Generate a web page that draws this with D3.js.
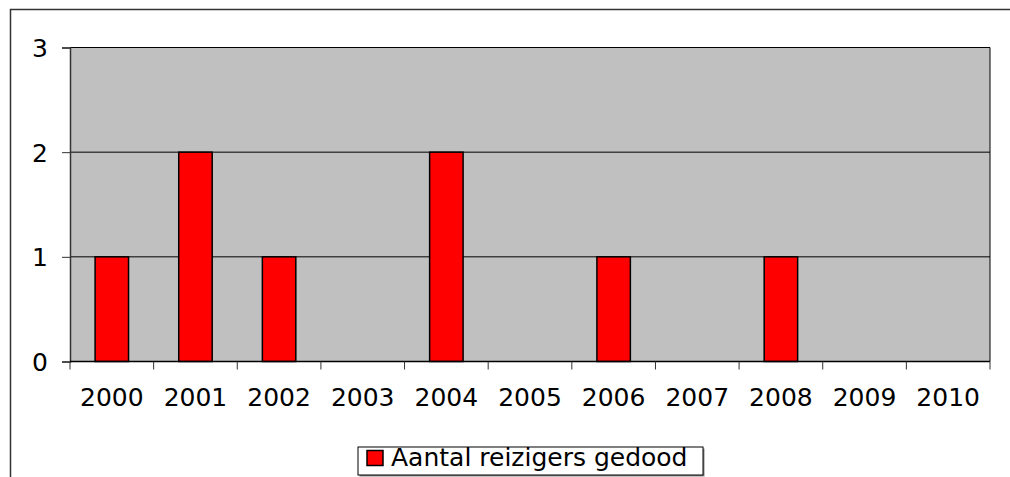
<!DOCTYPE html>
<html lang="nl">
<head>
<meta charset="UTF-8">
<title>Aantal reizigers gedood</title>
<script src="https://d3js.org/d3.v7.min.js"></script>
<style>
  body { margin: 0; background: #fff; }
  svg text { font-family: "DejaVu Sans", Verdana, sans-serif; fill: #000; }
</style>
</head>
<body>
<div id="chart"></div>
<script>
// data
const years = ["2000", "2001", "2002", "2003", "2004", "2005", "2006", "2007", "2008", "2009", "2010"];
const gedood = [1, 2, 1, 0, 2, 0, 1, 0, 1, 0, 0];
const yTicks = [0, 1, 2, 3];
const seriesName = "Aantal reizigers gedood";

const W = 1010, H = 477;
const plot = { left: 70, top: 47.5, right: 990, bottom: 361.5 };
const fs = "25px";

const svg = d3.select("#chart").append("svg")
  .attr("width", W).attr("height", H);

// outer chart border (only top and left visible)
svg.append("path")
  .attr("d", `M10.5,${H} V9.5 H${W}`)
  .attr("fill", "none")
  .attr("stroke", "#333")
  .attr("stroke-width", 1.5);

const x = d3.scaleBand()
  .domain(years)
  .range([plot.left, plot.right]);

const y = d3.scaleLinear()
  .domain([0, 3])
  .range([plot.bottom, plot.top]);

// plot background
svg.append("rect")
  .attr("x", plot.left).attr("y", plot.top)
  .attr("width", plot.right - plot.left)
  .attr("height", plot.bottom - plot.top)
  .attr("fill", "#c0c0c0");

// gridlines
svg.append("g")
  .selectAll("line")
  .data(yTicks.filter(d => d > 0))
  .join("line")
  .attr("x1", plot.left).attr("x2", plot.right)
  .attr("y1", d => y(d)).attr("y2", d => y(d))
  .attr("stroke", "#000").attr("stroke-width", 1);

// right border of plot
svg.append("line")
  .attr("x1", plot.right).attr("x2", plot.right)
  .attr("y1", plot.top).attr("y2", plot.bottom)
  .attr("stroke", "#000").attr("stroke-width", 1);

// bars
const barW = x.bandwidth() / 2.5;
svg.append("g")
  .selectAll("rect")
  .data(years.map((yr, i) => ({ yr, v: gedood[i] })).filter(d => d.v > 0))
  .join("rect")
  .attr("x", d => x(d.yr) + (x.bandwidth() - barW) / 2)
  .attr("y", d => y(d.v))
  .attr("width", barW)
  .attr("height", d => y(0) - y(d.v))
  .attr("fill", "#ff0000")
  .attr("stroke", "#000")
  .attr("stroke-width", 1.5);

// y axis
const yAxis = svg.append("g")
  .attr("transform", `translate(${plot.left},0)`)
  .call(d3.axisLeft(y).tickValues(yTicks).tickFormat(d3.format("d")).tickSize(8).tickPadding(14));
yAxis.select(".domain").attr("stroke", "#333").attr("stroke-width", 1.5);
yAxis.selectAll(".tick line").attr("stroke", "#333");
yAxis.selectAll("text").style("font-size", fs).attr("dy", "0.36em");

// x axis: ticks at category boundaries
const xAxis = svg.append("g")
  .attr("transform", `translate(0,${plot.bottom})`);
xAxis.append("line")
  .attr("x1", plot.left).attr("x2", plot.right)
  .attr("stroke", "#000").attr("stroke-width", 1.5);
xAxis.selectAll(".tk")
  .data(years.concat(["end"]))
  .join("line")
  .attr("class", "tk")
  .attr("x1", (d, i) => plot.left + i * x.step())
  .attr("x2", (d, i) => plot.left + i * x.step())
  .attr("y1", 0).attr("y2", 8)
  .attr("stroke", "#333");
xAxis.selectAll("text")
  .data(years)
  .join("text")
  .attr("x", d => x(d) + x.bandwidth() / 2)
  .attr("y", 44)
  .attr("text-anchor", "middle")
  .style("font-size", fs)
  .text(d => d);

// legend
const leg = svg.append("g").attr("transform", "translate(358,447)");
leg.append("rect")
  .attr("x", 1.5).attr("y", 1.5).attr("width", 345).attr("height", 28)
  .attr("fill", "#888");
leg.append("rect")
  .attr("width", 345).attr("height", 28)
  .attr("fill", "#fff").attr("stroke", "#000").attr("stroke-width", 1);
leg.append("rect")
  .attr("x", 9).attr("y", 3.5).attr("width", 16).attr("height", 15)
  .attr("fill", "#ff0000").attr("stroke", "#000").attr("stroke-width", 1.5);
leg.append("text")
  .attr("x", 33).attr("y", 19)
  .style("font-size", fs)
  .text(seriesName);
</script>
</body>
</html>
